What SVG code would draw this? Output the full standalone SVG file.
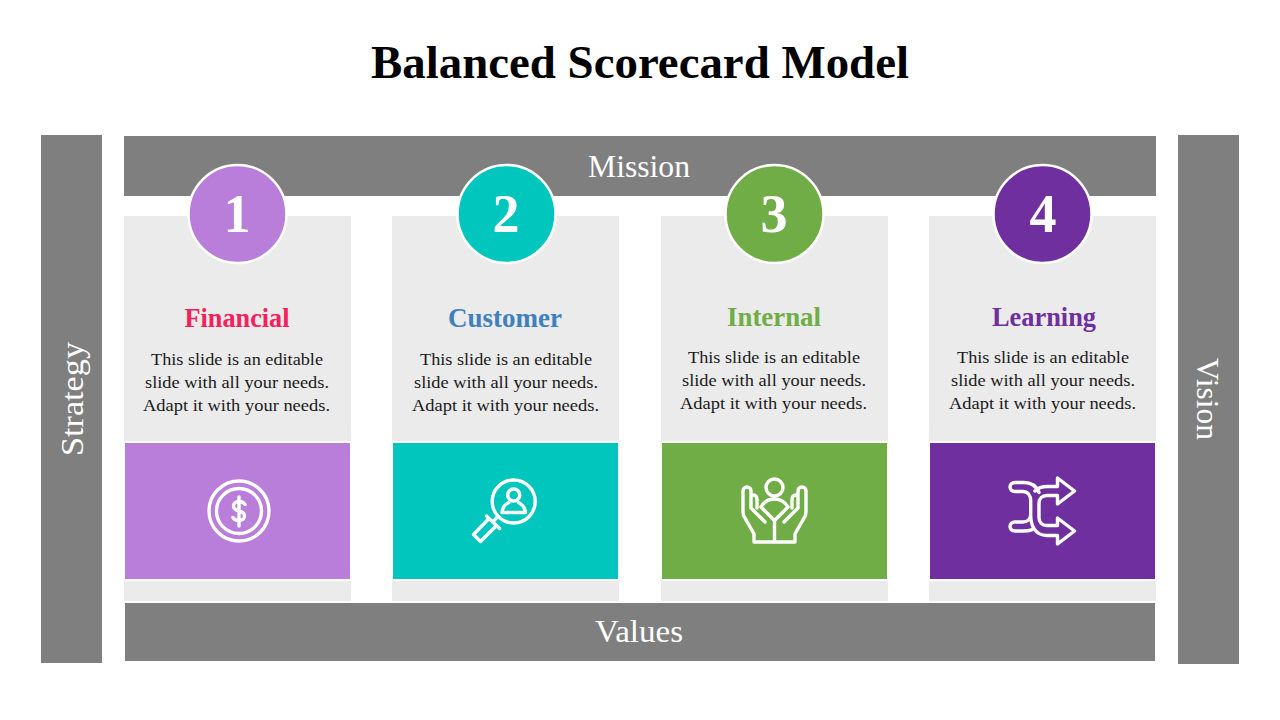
<svg xmlns="http://www.w3.org/2000/svg" width="1280" height="720" viewBox="0 0 1280 720">
<style>
text{font-family:"Liberation Serif","DejaVu Serif",serif;text-anchor:middle}
.bar{fill:#7f7f7f}
.panel{fill:#ebebeb}
.lbl{font-size:31px;fill:#fff}
.num{font-size:54px;font-weight:700;fill:#fff}
.hd{font-size:27px;font-weight:700}
.bd{font-size:17.5px;fill:#1a1a1a}
.ring{stroke:#fff;stroke-width:2.5}
.ic{fill:none;stroke:#fff;stroke-width:3.4;stroke-linecap:round;stroke-linejoin:round}
</style>
<rect width="1280" height="720" fill="#fff"/>
<text x="640" y="78" font-size="47" font-weight="700" fill="#000" textLength="538" lengthAdjust="spacingAndGlyphs">Balanced Scorecard Model</text>
<g id="strategy"><rect class="bar" x="41" y="135" width="61" height="528"/><text class="lbl" transform="translate(83 399) rotate(-90)" textLength="114" lengthAdjust="spacingAndGlyphs">Strategy</text></g>
<g id="vision"><rect class="bar" x="1178" y="135" width="61" height="529"/><text class="lbl" transform="translate(1197 399) rotate(90)" textLength="82" lengthAdjust="spacingAndGlyphs">Vision</text></g>
<g id="mission"><rect class="bar" x="124" y="136" width="1032" height="60"/><text class="lbl" x="639" y="177" textLength="102" lengthAdjust="spacingAndGlyphs">Mission</text></g>
<g id="values"><rect class="bar" x="125" y="603" width="1030" height="58"/><text class="lbl" x="639" y="642" textLength="88" lengthAdjust="spacingAndGlyphs">Values</text></g>
<g id="card1">
<rect class="panel" x="124" y="216" width="227" height="225"/><rect class="panel" x="124" y="581" width="227" height="20"/>
<rect x="125" y="443" width="225" height="136" fill="#b97dda"/>
<circle class="ring" cx="237.500" cy="214" r="49" fill="#b97dda"/>
<text class="num" x="237" y="232">1</text>
<text class="hd" x="237" y="327" fill="#f5215a" textLength="105" lengthAdjust="spacingAndGlyphs">Financial</text>
<text class="bd" x="237" y="365" textLength="172" lengthAdjust="spacingAndGlyphs">This slide is an editable</text>
<text class="bd" x="237" y="388" textLength="184" lengthAdjust="spacingAndGlyphs">slide with all your needs.</text>
<text class="bd" x="236.500" y="411" textLength="187" lengthAdjust="spacingAndGlyphs">Adapt it with your needs.</text>
<g class="ic"><circle cx="239" cy="511" r="30"/><circle cx="239" cy="511" r="22.500"/><path d="M245 504.500c-1-2-3-3-6-3c-3.500 0-5.500 2-5.500 4.500c0 3 2.500 4.200 5.500 5c3 .8 5.500 2 5.500 5c0 2.500-2 4.500-5.500 4.500c-3 0-5-1-6-3M239 497v29"/></g>
</g>
<g id="card2">
<rect class="panel" x="392" y="216" width="227" height="225"/><rect class="panel" x="392" y="581" width="227" height="20"/>
<rect x="393" y="443" width="225" height="136" fill="#00c6be"/>
<circle class="ring" cx="506.500" cy="214" r="49" fill="#00c6be"/>
<text class="num" x="506" y="232">2</text>
<text class="hd" x="505" y="327" fill="#3f80bd" textLength="114" lengthAdjust="spacingAndGlyphs">Customer</text>
<text class="bd" x="506" y="365" textLength="172" lengthAdjust="spacingAndGlyphs">This slide is an editable</text>
<text class="bd" x="506" y="388" textLength="184" lengthAdjust="spacingAndGlyphs">slide with all your needs.</text>
<text class="bd" x="505.500" y="411" textLength="187" lengthAdjust="spacingAndGlyphs">Adapt it with your needs.</text>
<g class="ic"><circle cx="513.700" cy="501.500" r="21.500"/><circle cx="513.700" cy="495" r="6"/><path d="M502 512.500h23.500c-.5-5-4-8.500-7-10M502 512.500c.5-5 3.500-8.500 7-10M498 516.500l-5.500 5.500M486.500 516l13 12.500M488.500 519l-15 15.500l7 7l15-15"/></g>
</g>
<g id="card3">
<rect class="panel" x="661" y="216" width="227" height="225"/><rect class="panel" x="661" y="581" width="227" height="20"/>
<rect x="662" y="443" width="225" height="136" fill="#70ad47"/>
<circle class="ring" cx="774.500" cy="214" r="49" fill="#70ad47"/>
<text class="num" x="774" y="232">3</text>
<text class="hd" x="774" y="326" fill="#70ad47" textLength="94" lengthAdjust="spacingAndGlyphs">Internal</text>
<text class="bd" x="774" y="363" textLength="172" lengthAdjust="spacingAndGlyphs">This slide is an editable</text>
<text class="bd" x="774" y="386" textLength="184" lengthAdjust="spacingAndGlyphs">slide with all your needs.</text>
<text class="bd" x="773.500" y="409" textLength="187" lengthAdjust="spacingAndGlyphs">Adapt it with your needs.</text>
<g class="ic"><circle cx="774.500" cy="487.500" r="8.500"/><path d="M761 507c3-5 8-8 13.500-8s10.500 3 13.500 8M761 507l13.500 13.500M788 507l-13.500 13.500M774.500 520.500V542M754 542h41M754 542v-8c-3-6-6-10-9-16c-1.500-2-2-3-2-6v-21c0-2 1.500-4 4-4s4 2 4 4v16M795 542v-8c3-6 6-10 9-16c1.500-2 2-3 2-6v-21c0-2-1.500-4-4-4s-4 2-4 4v16M751 495h2c3 0 4 2 4 5M798 495h-2c-3 0-4 2-4 5M757 499v9M792 499v9M751 508l14 14M798 508l-14 14"/></g>
</g>
<g id="card4">
<rect class="panel" x="929" y="216" width="227" height="225"/><rect class="panel" x="929" y="581" width="227" height="20"/>
<rect x="930" y="443" width="225" height="136" fill="#702f9e"/>
<circle class="ring" cx="1042.500" cy="214" r="49" fill="#702f9e"/>
<text class="num" x="1043" y="232">4</text>
<text class="hd" x="1044" y="326" fill="#702f9e" textLength="104" lengthAdjust="spacingAndGlyphs">Learning</text>
<text class="bd" x="1043" y="363" textLength="172" lengthAdjust="spacingAndGlyphs">This slide is an editable</text>
<text class="bd" x="1043" y="386" textLength="184" lengthAdjust="spacingAndGlyphs">slide with all your needs.</text>
<text class="bd" x="1042.500" y="409" textLength="187" lengthAdjust="spacingAndGlyphs">Adapt it with your needs.</text>
<g class="ic"><path d="M1035 491c3-3 7-4.500 12-4.500h10.500V478l17 13l-17 13v-8.500H1047c-5 0-8 3-8 8v14c0 5 3 8 8 8h10.500V518l17 13l-17 13v-8.500H1047c-6 0-10-2-13-7c-2-3-3.300-7-3.300-13.500v-14c0-6-3-9.500-8-9.500H1015c-3 0-5-2-5-4.500s2-4.500 5-4.500h9c7 0 12 3 15 10M1030.700 514c0 5-3 8-8 8H1015c-3 0-5 2-5 4.500s2 4.500 5 4.500h9c4 0 7-.5 10-2"/></g>
</g>
</svg>
